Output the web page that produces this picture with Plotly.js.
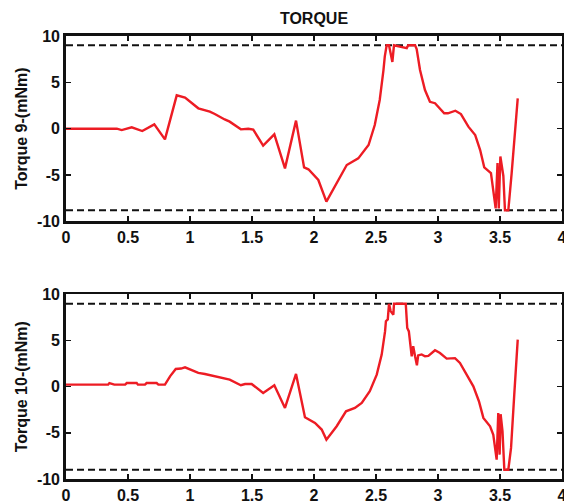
<!DOCTYPE html>
<html>
<head>
<meta charset="utf-8">
<script src="https://cdn.plot.ly/plotly-3.0.1.min.js"></script>
<style>html,body{margin:0;padding:0;background:#fff;}#chart{width:564px;height:501px;}</style>
</head>
<body>
<div id="chart"></div>
<script>
// Torque 9 (top panel)
const t9 = [0, 0.41, 0.449, 0.53, 0.615, 0.712, 0.798, 0.893, 0.96, 1.067, 1.16, 1.20, 1.28, 1.32, 1.41, 1.47, 1.51, 1.59, 1.68, 1.766, 1.855, 1.92, 1.955, 2.035, 2.10, 2.264, 2.357, 2.44, 2.49, 2.53, 2.56, 2.571, 2.586, 2.605, 2.632, 2.645, 2.748, 2.76, 2.815, 2.828, 2.855, 2.895, 2.935, 2.976, 3.05, 3.08, 3.14, 3.185, 3.245, 3.30, 3.34, 3.373, 3.427, 3.465, 3.48, 3.49, 3.503, 3.527, 3.54, 3.567, 3.594, 3.615, 3.643];
const torque9 = [0, 0, -0.15, 0.15, -0.25, 0.47, -1.15, 3.6, 3.35, 2.2, 1.84, 1.59, 1.0, 0.76, -0.07, 0.0, -0.1, -1.83, -0.61, -4.28, 0.87, -4.17, -4.38, -5.53, -7.87, -3.92, -3.2, -1.76, 0.4, 3.1, 6.3, 7.8, 9, 9, 7.2, 9, 8.7, 9, 9, 8.6, 6.33, 4.17, 2.9, 2.75, 1.66, 1.66, 1.94, 1.58, 0.22, -0.68, -2.3, -4.17, -4.8, -8.6, -3.7, -8.6, -3.0, -5.1, -8.8, -8.8, -4.8, -0.86, 3.28];

// Torque 10 (bottom panel)
const t10 = [0, 0.34, 0.35, 0.39, 0.477, 0.49, 0.57, 0.58, 0.637, 0.65, 0.731, 0.745, 0.798, 0.839, 0.885, 0.928, 0.96, 1.0, 1.067, 1.12, 1.20, 1.32, 1.41, 1.444, 1.497, 1.59, 1.68, 1.766, 1.855, 1.927, 2.008, 2.062, 2.10, 2.183, 2.258, 2.33, 2.385, 2.45, 2.506, 2.546, 2.573, 2.58, 2.595, 2.605, 2.618, 2.64, 2.645, 2.74, 2.752, 2.765, 2.788, 2.80, 2.815, 2.83, 2.84, 2.868, 2.895, 2.922, 2.976, 3.016, 3.07, 3.137, 3.177, 3.23, 3.285, 3.33, 3.366, 3.42, 3.446, 3.473, 3.486, 3.497, 3.505, 3.52, 3.535, 3.567, 3.589, 3.615, 3.643];
const torque10 = [0.23, 0.23, 0.4, 0.23, 0.23, 0.4, 0.4, 0.23, 0.23, 0.4, 0.4, 0.23, 0.23, 1.13, 1.93, 1.97, 2.1, 1.86, 1.5, 1.38, 1.13, 0.77, 0.16, 0.3, 0.3, -0.67, 0.16, -2.3, 1.39, -3.31, -3.92, -4.64, -5.73, -4.28, -2.66, -2.3, -1.76, -0.49, 1.31, 3.48, 6.0, 7.1, 7.3, 9, 8.2, 7.8, 9, 9, 6.37, 6.0, 3.3, 4.4, 3.3, 2.33, 3.4, 3.5, 3.3, 3.35, 3.95, 3.66, 3.05, 3.1, 2.58, 1.31, 0.05, -1.57, -3.38, -4.28, -5.2, -7.9, -2.84, -7.36, -2.98, -4.82, -9, -9, -6.63, -0.85, 5.1];

// Limit lines
const limitX = [0, 4];
const upper9 = [9, 9];
const lower9 = [-8.8, -8.8];
const upper10 = [9, 9];
const lower10 = [-9, -9];

const xTickVals = [0, 0.5, 1, 1.5, 2, 2.5, 3, 3.5, 4];
const xTickText = ['0', '0.5', '1', '1.5', '2', '2.5', '3', '3.5', '4'];
const yTickVals = [-10, -5, 0, 5, 10];
const yTickText = ['-10', '-5', '0', '5', '10'];

const red = 'rgb(237,28,36)';
const dashStyle = {color: '#111', width: 2, dash: '7px,4px'};

const traces = [
  {x: limitX, y: upper9, xaxis: 'x', yaxis: 'y', mode: 'lines', line: dashStyle, hoverinfo: 'skip'},
  {x: limitX, y: lower9, xaxis: 'x', yaxis: 'y', mode: 'lines', line: dashStyle, hoverinfo: 'skip'},
  {x: t9, y: torque9, xaxis: 'x', yaxis: 'y', mode: 'lines', line: {color: red, width: 2.4}},
  {x: limitX, y: upper10, xaxis: 'x2', yaxis: 'y2', mode: 'lines', line: dashStyle, hoverinfo: 'skip'},
  {x: limitX, y: lower10, xaxis: 'x2', yaxis: 'y2', mode: 'lines', line: dashStyle, hoverinfo: 'skip'},
  {x: t10, y: torque10, xaxis: 'x2', yaxis: 'y2', mode: 'lines', line: {color: red, width: 2.4}}
];

const fontFam = 'Liberation Sans, Arial, sans-serif';
const tickFont = {family: fontFam, size: 16, color: '#111', weight: 'bold'};

function xAxis(anchor) {
  return {
    anchor: anchor, range: [0, 4], tickmode: 'array', tickvals: xTickVals, ticktext: xTickText,
    ticks: 'inside', ticklen: 5, tickwidth: 1.5, tickcolor: '#111',
    showline: true, linecolor: '#111', linewidth: 2.8, mirror: 'ticks',
    showgrid: false, zeroline: false, tickfont: tickFont, fixedrange: true,
    ticklabeloverflow: 'allow'
  };
}
function yAxis(anchor, domain, title) {
  return {
    anchor: anchor, domain: domain, range: [-10, 10], tickmode: 'array', tickvals: yTickVals, ticktext: yTickText,
    ticks: 'inside', ticklen: 5, tickwidth: 1.5, tickcolor: '#111',
    showline: true, linecolor: '#111', linewidth: 2.8, mirror: 'ticks',
    showgrid: false, zeroline: false, tickfont: tickFont, fixedrange: true,
    ticklabeloverflow: 'allow',
    title: {text: title, font: {family: fontFam, size: 16, color: '#111', weight: 'bold'}, standoff: 6}
  };
}

const layout = {
  width: 564, height: 501,
  margin: {l: 66, r: 2, t: 36, b: 22},
  paper_bgcolor: 'white', plot_bgcolor: 'white',
  showlegend: false,
  title: {text: 'TORQUE', font: {family: fontFam, size: 16, color: '#111', weight: 'bold'}, xref: 'paper', x: 0.5, xanchor: 'center', yref: 'container', y: 0.963, yanchor: 'middle'},
  xaxis: xAxis('y'),
  yaxis: yAxis('x', [0.5815, 1], 'Torque 9-(mNm)'),
  xaxis2: xAxis('y2'),
  yaxis2: yAxis('x2', [0, 0.4165], 'Torque 10-(mNm)')
};

Plotly.newPlot('chart', traces, layout, {displayModeBar: false, staticPlot: true});
</script>
</body>
</html>
